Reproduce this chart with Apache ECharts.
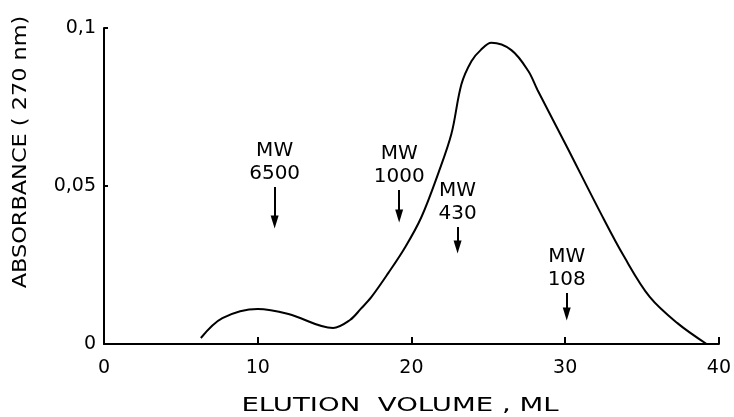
<!DOCTYPE html>
<html>
<head>
<meta charset="utf-8">
<script src="https://cdn.jsdelivr.net/npm/echarts@6/dist/echarts.min.js"></script>
<style>html,body{margin:0;padding:0;background:#fff}#c{width:734px;height:417px}</style>
</head>
<body>
<div id="c"></div>
<script>
// Elution curve (x = elution volume, ml; y = absorbance at 270 nm)
const elutionVolume = [6.3, 7.7, 10.0, 12.0, 14.9, 16.0, 16.7, 17.4, 18.5, 19.6, 20.65, 21.75, 22.6, 23.25, 23.9, 24.5, 25.2, 26.5, 27.6, 28.2, 30.1, 32.3, 33.85, 35.5, 37.3, 39.2];
const absorbance    = [0.0019, 0.0082, 0.0111, 0.0095, 0.0051, 0.0076, 0.0111, 0.0149, 0.0225, 0.0307, 0.0402, 0.0541, 0.0665, 0.0822, 0.0895, 0.093, 0.0953, 0.093, 0.0864, 0.0804, 0.0625, 0.0415, 0.0275, 0.0149, 0.0066, 0.0];

// Molecular-weight markers
const markerVolume   = [11.1, 19.2, 23.0, 30.1];
const markerMW       = ['6500', '1000', '430', '108'];
const markerArrowTop = [0.0497, 0.0487, 0.0370, 0.0161];
const markerArrowTip = [0.0386, 0.0405, 0.0307, 0.0095];

// Tick labels
const xTickValues = [0, 10, 20, 30, 40];
const xTickLabels = ['0', '10', '20', '30', '40'];
const yTickValues = [0, 0.05, 0.1];
const yTickLabels = ['0', '0,05', '0,1'];

const xTitle = 'ELUTION  VOLUME , ML';
const yTitle = 'ABSORBANCE ( 270 nm)';

const FONT = 'DejaVu Sans';
const chart = echarts.init(document.getElementById('c'), null, {renderer: 'canvas'});

const curve = elutionVolume.map((v, i) => [v, absorbance[i]]);
const labelPts = markerVolume.map((v, i) => ({value: [v, markerArrowTop[i]], name: markerMW[i]}));
const arrows = markerVolume.map((v, i) => [{coord: [v, markerArrowTop[i]]}, {coord: [v, markerArrowTip[i]]}]);

function findLabel(vals, labs, v) {
  for (let i = 0; i < vals.length; i++) if (Math.abs(vals[i] - v) < 1e-9) return labs[i];
  return '';
}

chart.setOption({
  animation: false,
  backgroundColor: '#fff',
  grid: {left: 104, right: 12, top: 28, bottom: 73},
  xAxis: {
    type: 'value', min: 0, max: 40, interval: 10,
    axisLine: {lineStyle: {color: '#000', width: 2}},
    axisTick: {inside: true, length: 7, lineStyle: {color: '#000', width: 2}},
    axisLabel: {color: '#000', fontFamily: FONT, fontSize: 19, margin: 15,
      formatter: v => findLabel(xTickValues, xTickLabels, v)},
    splitLine: {show: false}
  },
  yAxis: {
    type: 'value', min: 0, max: 0.1, interval: 0.05,
    axisLine: {show: true, lineStyle: {color: '#000', width: 2}},
    axisTick: {show: true, inside: true, length: 4, lineStyle: {color: '#000', width: 2}},
    axisLabel: {color: '#000', fontFamily: FONT, fontSize: 19, margin: 8,
      formatter: v => findLabel(yTickValues, yTickLabels, v)},
    splitLine: {show: false}
  },
  graphic: [
    {type: 'text', x: 400, y: 406, scaleX: 1.45, style: {text: xTitle, font: '19px "DejaVu Sans"', fill: '#000', align: 'center', verticalAlign: 'middle'}},
    {type: 'text', x: 21, y: 152, rotation: Math.PI / 2, scaleX: 1.12, style: {text: yTitle, font: '20px "DejaVu Sans"', fill: '#000', align: 'center', verticalAlign: 'middle'}}
  ],
  series: [
    {
      type: 'line', data: curve, smooth: 0.35, showSymbol: false, symbol: 'none',
      lineStyle: {color: '#000', width: 2}
    },
    {
      type: 'scatter', data: labelPts, symbolSize: 0, silent: true,
      label: {show: true, position: 'top', distance: 2, color: '#000', opacity: 1, fontFamily: FONT, fontSize: 20,
        lineHeight: 23, align: 'center', textBorderWidth: 0, formatter: p => 'MW\n' + p.name},
      markLine: {
        silent: true, symbol: ['none', 'triangle'], symbolSize: [8, 13],
        lineStyle: {color: '#000', width: 2, type: 'solid'},
        label: {show: false},
        data: arrows
      }
    }
  ]
});
</script>
</body>
</html>
